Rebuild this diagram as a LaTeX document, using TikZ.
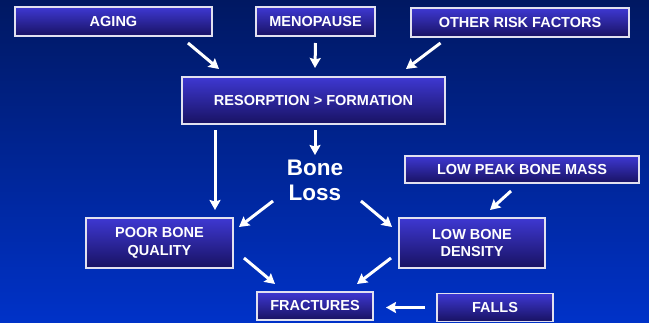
\documentclass[tikz,border=0pt]{standalone}
\usepackage{fontspec}
\setmainfont{Liberation Sans}
\usetikzlibrary{arrows.meta}
\definecolor{bgtop}{RGB}{0,24,98}
\definecolor{bgbot}{RGB}{0,50,200}
\definecolor{boxtop}{RGB}{62,56,210}
\definecolor{boxbot}{RGB}{24,18,98}
\definecolor{boxline}{RGB}{225,225,240}
\tikzset{
  factor/.style={draw=boxline, line width=1.4pt, top color=boxtop, bottom color=boxbot,
    text=white, font=\fontsize{14.5}{17.5}\selectfont\bfseries, align=center, inner sep=0pt, outer sep=0pt},
  arr/.style={draw=white, line width=3pt, -{Stealth[length=10pt,width=11pt,inset=1.5pt]}},
  bigtext/.style={text=white, font=\fontsize{22.5}{25}\selectfont\bfseries, align=center, inner sep=0pt,
    outer sep=0pt, minimum width=80pt, minimum height=50pt}
}
\begin{document}
\begin{tikzpicture}[x=1pt,y=-1pt]
\useasboundingbox (0,0) rectangle (649,322);
\shade[top color=bgtop, bottom color=bgbot] (0,0) rectangle (649,322);
\begin{scope}
\clip (0,0) rectangle (649,322);
\node[factor, minimum width=197pt, minimum height=29pt] (aging) at (113.5,21.5) {AGING};
\node[factor, minimum width=119pt, minimum height=29pt] (meno) at (315.5,21.5) {MENOPAUSE};
\node[factor, minimum width=218pt, minimum height=29pt] (other) at (520,22.5) {OTHER RISK FACTORS};
\node[factor, minimum width=263pt, minimum height=47pt] (res) at (313.5,100.5) {RESORPTION \textgreater{} FORMATION};
\node[factor, minimum width=234pt, minimum height=27pt] (peak) at (522,169.5) {LOW PEAK BONE MASS};
\node[factor, minimum width=147pt, minimum height=50pt] (poor) at (159.5,243) {POOR BONE\\QUALITY};
\node[factor, minimum width=146pt, minimum height=50pt] (low) at (472,243) {LOW BONE\\DENSITY};
\node[factor, minimum width=116pt, minimum height=28pt] (fract) at (315,306) {FRACTURES};
\node[factor, minimum width=116pt, minimum height=28pt] (falls) at (495,307.5) {FALLS};
\node[bigtext] (bone) at (315,180) {Bone\\Loss};
\end{scope}
\draw[arr] ([xshift=-24pt,yshift=-7pt]aging.south east) -- ([xshift=37pt,yshift=8pt]res.north west);
\draw[arr] ([yshift=-7pt]meno.south) -- ([xshift=1.5pt,yshift=9pt]res.north);
\draw[arr] ([xshift=29.5pt,yshift=-6pt]other.south west) -- ([xshift=-39pt,yshift=8pt]res.north east);
\draw[arr] ([xshift=33pt,yshift=-6pt]res.south west) -- ([xshift=-18pt,yshift=8pt]poor.north east);
\draw[arr] ([xshift=1.5pt,yshift=-6pt]res.south) -- (bone.north);
\draw[arr] ([xshift=-2pt,yshift=4pt]bone.south west) -- ([xshift=6pt,yshift=-9pt]poor.north east);
\draw[arr] ([xshift=6pt,yshift=4pt]bone.south east) -- ([xshift=-7pt,yshift=-9pt]low.north west);
\draw[arr] ([xshift=-11pt,yshift=-8pt]peak.south) -- ([xshift=18pt,yshift=8pt]low.north);
\draw[arr] ([xshift=11pt,yshift=10pt]poor.south east) -- ([xshift=18pt,yshift=8pt]fract.north west);
\draw[arr] ([xshift=-8pt,yshift=10pt]low.south west) -- ([xshift=-16pt,yshift=8pt]fract.north east);
\draw[arr] ([xshift=-12pt]falls.west) -- ([xshift=13pt]fract.east |- falls.west);
\end{tikzpicture}
\end{document}
